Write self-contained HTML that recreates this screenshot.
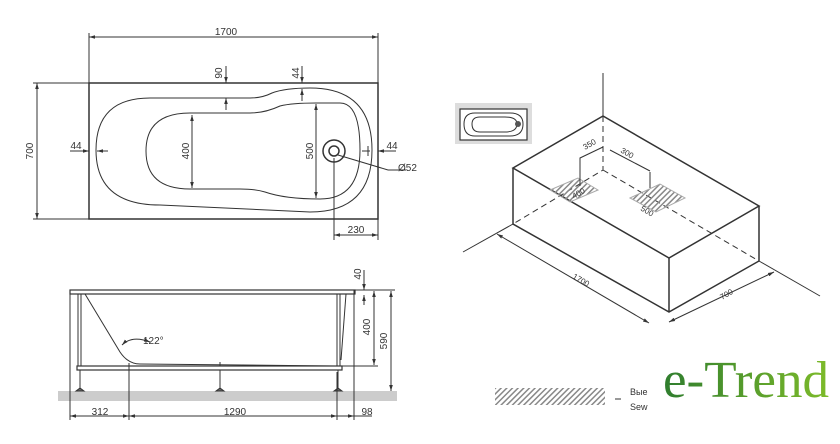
<!DOCTYPE html>
<html><head><meta charset="utf-8"><style>
html,body{margin:0;padding:0;background:#fff;}
svg{display:block;}
text{font-family:"Liberation Sans",sans-serif;fill:#333;}
</style></head><body>
<svg width="840" height="444" viewBox="0 0 840 444" xmlns="http://www.w3.org/2000/svg">
<defs>
<marker id="a" viewBox="0 0 10 10" refX="10" refY="5" markerWidth="6" markerHeight="6" orient="auto-start-reverse"><path d="M0,2 L10,5 L0,8z" fill="#333"/></marker>
<pattern id="h" width="4" height="4" patternUnits="userSpaceOnUse" patternTransform="rotate(45)"><rect width="1.5" height="4" fill="#888"/></pattern>
<linearGradient id="g" x1="0" x2="1"><stop offset="0" stop-color="#2f7d2e"/><stop offset="1" stop-color="#7dbb2a"/></linearGradient>
</defs>
<g stroke="#333" fill="none" stroke-width="1">
<rect x="89" y="83" width="289" height="136" stroke-width="1.5"/>
<line x1="89" y1="33" x2="89" y2="83"/><line x1="378" y1="33" x2="378" y2="83"/>
<line x1="89" y1="37" x2="378" y2="37" marker-start="url(#a)" marker-end="url(#a)"/>
<line x1="33" y1="83" x2="89" y2="83"/><line x1="33" y1="219" x2="89" y2="219"/>
<line x1="37" y1="83" x2="37" y2="219" marker-start="url(#a)" marker-end="url(#a)"/>
<path d="M150,98 L250,98 Q262,98 272,93 Q285,88 310,88 Q372,88 372,150 Q372,212 310,212 L160,205 Q96,205 96,150 Q96,98 150,98Z"/>
<path d="M190,113 L250,113 Q265,113 280,106 Q292,103 316,103 L340,103 Q360,103 360,150 Q360,199 320,199 Q285,199 265,192 Q255,189 240,189 L190,189 Q146,189 146,151 Q146,113 190,113Z"/>
<line x1="192" y1="115" x2="192" y2="188" marker-start="url(#a)" marker-end="url(#a)"/>
<line x1="316" y1="104" x2="316" y2="198" marker-start="url(#a)" marker-end="url(#a)"/>
<line x1="226" y1="66" x2="226" y2="83" marker-end="url(#a)"/><line x1="226" y1="110" x2="226" y2="98" marker-end="url(#a)"/>
<line x1="302" y1="66" x2="302" y2="83" marker-end="url(#a)"/><line x1="302" y1="101" x2="302" y2="89" marker-end="url(#a)"/>
<line x1="70" y1="151" x2="89" y2="151" marker-end="url(#a)"/><line x1="108" y1="151" x2="97" y2="151" marker-end="url(#a)"/>
<line x1="396" y1="151" x2="378" y2="151" marker-end="url(#a)"/><line x1="362" y1="151" x2="370" y2="151"/><line x1="368" y1="146" x2="368" y2="156"/>
<circle cx="334" cy="151" r="11" stroke-width="1.5"/><circle cx="334" cy="151" r="5" stroke-width="1.5"/>
<line x1="338" y1="155" x2="388" y2="170"/><line x1="388" y1="170" x2="406" y2="170"/>
<line x1="334" y1="158" x2="334" y2="240"/>
<line x1="334" y1="235" x2="378" y2="235" marker-start="url(#a)" marker-end="url(#a)"/>
<line x1="378" y1="219" x2="378" y2="240"/>
<rect x="58" y="391" width="339" height="10" fill="#ccc" stroke="none"/>
<rect x="70" y="290" width="285" height="4" stroke-width="1.2"/>
<line x1="70" y1="290" x2="70" y2="420"/>
<line x1="354" y1="290" x2="354" y2="420"/>
<rect x="77" y="366" width="265" height="4" stroke-width="1.2"/>
<rect x="78" y="294" width="3" height="72"/><rect x="337" y="294" width="3" height="72"/>
<line x1="80" y1="370" x2="80" y2="389"/><line x1="220" y1="370" x2="220" y2="389"/><line x1="338" y1="370" x2="338" y2="389"/>
<path d="M76,391 l4,-3 l4,3z M216,391 l4,-3 l4,3z M334,391 l4,-3 l4,3z" fill="#666"/>
<path d="M85,294 L120,352 Q128,364 140,364 L335,366"/>
<line x1="220" y1="362" x2="220" y2="366"/>
<path d="M346,294 L341,360"/>
<path d="M122,345 Q132,335 150,342" marker-start="url(#a)" marker-end="url(#a)"/>
<line x1="129" y1="363" x2="129" y2="420"/>
<line x1="337" y1="372" x2="337" y2="420"/>
<line x1="70" y1="416" x2="129" y2="416" marker-start="url(#a)" marker-end="url(#a)"/>
<line x1="129" y1="416" x2="337" y2="416" marker-start="url(#a)" marker-end="url(#a)"/>
<line x1="354" y1="416" x2="372" y2="416"/><line x1="337" y1="416" x2="354" y2="416" marker-end="url(#a)"/>
<line x1="355" y1="290" x2="395" y2="290"/><line x1="342" y1="366" x2="378" y2="366"/>
<line x1="364" y1="270" x2="364" y2="290" marker-end="url(#a)"/><line x1="364" y1="305" x2="364" y2="295" marker-end="url(#a)"/>
<line x1="374" y1="291" x2="374" y2="365" marker-start="url(#a)" marker-end="url(#a)"/>
<line x1="391" y1="291" x2="391" y2="391" marker-start="url(#a)" marker-end="url(#a)"/>
<line x1="603" y1="73" x2="603" y2="116"/>
<path d="M603,116 L513,168 L669,258 L759,206Z" stroke-width="1.5"/>
<path d="M513,168 L513,224 L669,312 L759,261 L759,206 M669,258 L669,312" stroke-width="1.5"/>
<path d="M603,116 L603,170 L513,224 M603,170 L759,261" stroke-dasharray="6,4"/>
<line x1="463" y1="252" x2="513" y2="224"/><line x1="759" y1="261" x2="820" y2="296"/>
<line x1="497" y1="234" x2="649" y2="323" marker-start="url(#a)" marker-end="url(#a)"/>
<line x1="669" y1="322" x2="774" y2="272" marker-start="url(#a)" marker-end="url(#a)"/>
<path d="M550,190 L578,178 L598,190 L570,202Z" fill="url(#h)" stroke="#aaa"/>
<path d="M630,198 L660,184 L685,198 L656,212Z" fill="url(#h)" stroke="#aaa"/>
<path d="M580,186 L580,158 L603,147 M650,188 L650,172 M610,150 L650,171"/>
<rect x="455" y="103" width="77" height="41" fill="#ddd" stroke="none"/>
<rect x="460" y="109" width="67" height="31" fill="#fff" stroke-width="1.2"/>
<path d="M475,113 L510,113 Q523,113 523,124 Q523,136 510,136 L475,136 Q464,136 464,124 Q464,113 475,113Z"/>
<path d="M480,117 L505,117 Q517,117 517,124 Q517,132 505,132 L480,132 Q472,132 472,124 Q472,117 480,117Z"/>
<circle cx="518" cy="124" r="3" fill="#555" stroke="none"/>
<rect x="495" y="388" width="110" height="17" fill="url(#h)" stroke="none"/>
<line x1="615" y1="399" x2="621" y2="399"/>
</g>
<g font-size="10">
<text x="226" y="35" text-anchor="middle">1700</text>
<text x="33" y="151" text-anchor="middle" transform="rotate(-90 33 151)">700</text>
<text x="222" y="73" text-anchor="middle" transform="rotate(-90 222 73)">90</text>
<text x="299" y="73" text-anchor="middle" transform="rotate(-90 299 73)">44</text>
<text x="189" y="151" text-anchor="middle" transform="rotate(-90 189 151)">400</text>
<text x="313" y="151" text-anchor="middle" transform="rotate(-90 313 151)">500</text>
<text x="76" y="149" text-anchor="middle">44</text>
<text x="392" y="149" text-anchor="middle">44</text>
<text x="398" y="171">Ø52</text>
<text x="356" y="233" text-anchor="middle">230</text>
<text x="143" y="344">122°</text>
<text x="100" y="415" text-anchor="middle">312</text>
<text x="235" y="415" text-anchor="middle">1290</text>
<text x="367" y="415" text-anchor="middle">98</text>
<text x="361" y="274" text-anchor="middle" transform="rotate(-90 361 274)">40</text>
<text x="370" y="327" text-anchor="middle" transform="rotate(-90 370 327)">400</text>
<text x="387" y="341" text-anchor="middle" transform="rotate(-90 387 341)">590</text>
</g>
<g font-size="8">
<text x="585" y="150" transform="rotate(-30 585 150)">350</text>
<text x="620" y="152" transform="rotate(30 620 152)">300</text>
<text x="574" y="199" transform="rotate(-30 574 199)">400</text>
<text x="640" y="210" transform="rotate(30 640 210)">500</text>
<text x="572" y="278" transform="rotate(30 572 278)">1700</text>
<text x="722" y="300" transform="rotate(-30 722 300)">700</text>
<text x="630" y="395" font-size="9">Вые</text>
<text x="630" y="410" font-size="9">Sew</text>
</g>
<text x="663" y="397" textLength="166" lengthAdjust="spacingAndGlyphs" style="font-family:'Liberation Serif',serif;font-size:52px;fill:url(#g)">e-Trend</text>
</svg>
</body></html>
